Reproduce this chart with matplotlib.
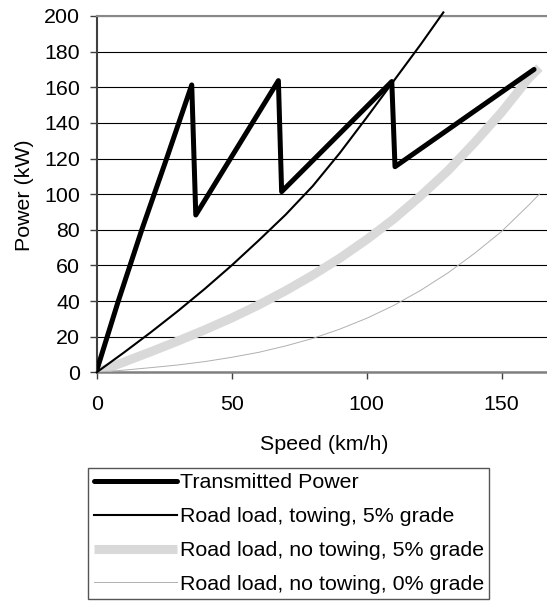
import matplotlib
matplotlib.use('Agg')
import matplotlib.pyplot as plt

plt.rcParams['font.family'] = ['Liberation Sans', 'DejaVu Sans']

# ---- data ----
speed_tp = [0, 8.0, 16.7, 25.9, 35.2, 36.7, 67.3, 68.5, 109.3, 110.5, 162.0]
power_tp = [1, 40, 80, 120, 161.3, 88.3, 163.7, 101.4, 163.2, 115.4, 170.0]

speed_tow = [0, 10, 20, 30, 40, 50, 60, 70, 80, 90, 100, 110, 120, 128.4]
power_tow = [0, 11, 22.4, 34.3, 46.8, 60, 74, 88.5, 104.5, 123, 143, 163.5, 184, 202]

speed_road = [0, 10, 20, 30, 40, 50, 60, 70, 80, 90, 100, 110, 120, 130, 140, 150, 160, 164]
power_nt5 = [0, 5.7, 11.5, 17.5, 23.8, 30.5, 37.8, 45.8, 54.5, 64, 74.5, 86, 99, 113, 129, 146, 165, 171]
power_nt0 = [0, 1.2, 2.6, 4.1, 6.0, 8.4, 11.2, 14.8, 19.0, 24.2, 30.3, 37.5, 46.0, 55.7, 66.8, 79.1, 93.8, 100.0]

labels = ["Transmitted Power",
          "Road load, towing, 5% grade",
          "Road load, no towing, 5% grade",
          "Road load, no towing, 0% grade"]

x_ticks = [0, 50, 100, 150]
y_ticks = [0, 20, 40, 60, 80, 100, 120, 140, 160, 180, 200]

FS = 15.4

fig = plt.figure(figsize=(5.47, 6.03), dpi=100)
ax = fig.add_axes([0.1768, 0.3826, 0.8232, 0.5909])

l3, = ax.plot(speed_road, power_nt5, color='#d9d9d9', lw=6.5, solid_capstyle='butt', zorder=3)
l4, = ax.plot(speed_road, power_nt0, color='#b0b0b0', lw=0.7, zorder=4)
l2, = ax.plot(speed_tow, power_tow, color='black', lw=1.5, zorder=5, clip_on=False)
l1, = ax.plot(speed_tp, power_tp, color='black', lw=3.6, solid_capstyle='round', zorder=6)

ax.set_xlim(0, 166.8)
ax.set_ylim(0, 200)
ax.set_xticks(x_ticks)
ax.set_yticks(y_ticks)
ax.yaxis.grid(True, color='black', lw=0.8)
ax.set_axisbelow(True)

ax.spines['right'].set_visible(False)
ax.spines['top'].set_color('#888888')
ax.spines['top'].set_linewidth(1.5)
ax.spines['bottom'].set_color('#808080')
ax.spines['bottom'].set_linewidth(1.8)
ax.spines['left'].set_color('#404040')
ax.spines['left'].set_linewidth(1.5)

ax.tick_params(axis='y', direction='out', length=5, width=1, color='#404040', pad=7, labelsize=FS)
ax.tick_params(axis='x', direction='out', length=5, width=1, color='#404040', pad=11, labelsize=FS)

fig.text(24 / 547, 1 - 195 / 603, "Power (kW)", rotation=90, ha='center', va='center', fontsize=FS)
fig.text(324 / 547, 1 - 445 / 603, "Speed (km/h)", ha='center', va='center', fontsize=FS)

leg_line_pro = l3
leg = fig.legend([l1, l2, l3, l4], labels, loc='upper left',
                 bbox_to_anchor=(88.3 / 547, 1 - 467.7 / 603), bbox_transform=fig.transFigure,
                 borderaxespad=0, frameon=True, fancybox=False, framealpha=1,
                 edgecolor='#555555', handlelength=3.9, handletextpad=0.13,
                 labelspacing=0.7, borderpad=0.25, fontsize=FS)
leg.get_frame().set_linewidth(1.0)

fig.savefig('out.png', dpi=100)
